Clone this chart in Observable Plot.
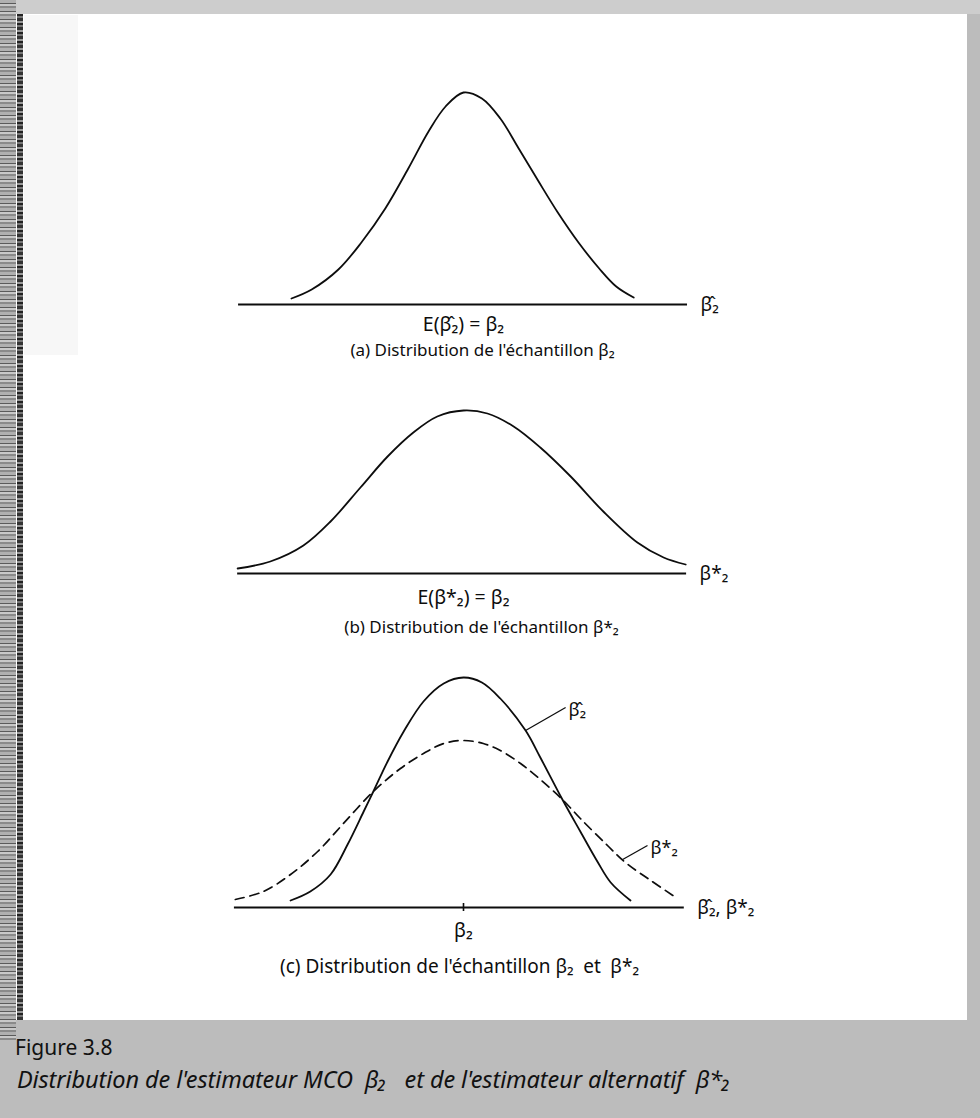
<!DOCTYPE html>
<html>
<head>
<meta charset="utf-8">
<script src="https://cdn.jsdelivr.net/npm/d3@7"></script>
<script src="https://cdn.jsdelivr.net/npm/@observablehq/plot@0.6"></script>
<style>
  html, body { margin: 0; padding: 0; }
  body { width: 980px; height: 1118px; position: relative; overflow: hidden; background: #bcbcbc; font-family: "Noto Sans", sans-serif; }
  #page { position: absolute; left: 16px; top: 14px; width: 951px; height: 1006px; background: #fff; }
  #topstrip { position: absolute; left: 0; top: 0; width: 980px; height: 14px; background: #cdcdcd; }
  #edge { position: absolute; left: 0; top: 0; width: 16px; height: 1040px;
    background: repeating-linear-gradient(0deg, #8a8a8a 0 2px, #c8c8c8 2px 4px, #5a5a5a 4px 5px, #b0b0b0 5px 8px); }
  #edgeline { position: absolute; left: 17px; top: 14px; width: 6px; height: 1006px;
    background: repeating-linear-gradient(0deg, #333 0 3px, #777 3px 5px, #222 5px 7px, #999 7px 9px); }
  #ghost { position: absolute; left: 24px; top: 15px; width: 54px; height: 340px; background: #f7f7f7; }
  .panel { position: absolute; left: 0; }
  #figlabel { position: absolute; left: 15px; top: 1033px; font-size: 21px; color: #111; }
  #figcap { position: absolute; left: 17px; top: 1062px; font-style: italic; font-size: 24px; color: #111;
    transform: scaleX(0.98); transform-origin: left top; letter-spacing: -0.1px; white-space: nowrap; }
</style>
</head>
<body>
<div id="topstrip"></div>
<div id="page"></div>
<div id="edge"></div>
<div id="edgeline"></div>
<div id="ghost"></div>
<div id="pa" class="panel" style="top:40px"></div>
<div id="pb" class="panel" style="top:380px"></div>
<div id="pc" class="panel" style="top:650px"></div>
<div id="figlabel">Figure 3.8</div>
<div id="figcap">Distribution de l'estimateur MCO&nbsp;&nbsp;β₂&nbsp;&nbsp; et de l'estimateur alternatif&nbsp;&nbsp;β*₂</div>
<script>
// ---- Data (x: position along the estimator axis, centred on β2; y: curve height) ----
// Panel (a): sampling distribution of β̂2
const curveAx = [-3.74, -3.30, -2.72, -2.22, -1.70, -1.20, -0.76, -0.39, 0.00, 0.40, 0.80, 1.20, 1.62, 2.05, 2.50, 2.95, 3.32, 3.70];
const curveAy = [0.06, 0.15, 0.35, 0.62, 0.96, 1.36, 1.73, 1.98, 2.12, 2.06, 1.86, 1.56, 1.24, 0.92, 0.62, 0.36, 0.18, 0.07];
// Panel (b): sampling distribution of β*2
const curveBx = [-4.91, -4.20, -3.48, -2.89, -2.24, -1.65, -1.09, -0.57, 0.00, 0.52, 1.09, 1.67, 2.33, 3.04, 3.78, 4.35, 4.83];
const curveBy = [0.05, 0.12, 0.28, 0.52, 0.86, 1.17, 1.41, 1.57, 1.63, 1.60, 1.47, 1.26, 0.97, 0.62, 0.31, 0.16, 0.09];
// Panel (c): both distributions
const solidCx = [-3.76, -3.33, -2.89, -2.52, -2.17, -1.96, -1.65, -1.30, -0.87, -0.43, 0.00, 0.40, 0.80, 1.35, 1.67, 2.15, 2.54, 2.91, 3.20, 3.63];
const solidCy = [0.07, 0.16, 0.33, 0.63, 0.96, 1.16, 1.46, 1.76, 2.06, 2.24, 2.30, 2.25, 2.09, 1.77, 1.50, 1.08, 0.76, 0.46, 0.25, 0.07];
const dashCx = [-4.96, -4.35, -3.76, -3.17, -2.61, -1.96, -1.37, -0.87, -0.43, 0.00, 0.43, 0.80, 1.24, 1.67, 2.15, 2.54, 3.13, 3.52, 4.07, 4.65];
const dashCy = [0.08, 0.16, 0.33, 0.56, 0.84, 1.16, 1.39, 1.54, 1.64, 1.67, 1.64, 1.57, 1.44, 1.28, 1.08, 0.89, 0.62, 0.45, 0.27, 0.09];
// Axis extents
const axisA = [-4.89, 4.87];
const axisB = [-4.91, 4.85];
const axisC = [-4.98, 4.80];
// Texts
const axisNameA = "β̂₂";
const axisNameB = "β*₂";
const axisNameC = "β̂₂, β*₂";
const tickA = "E(β̂₂) = β₂";
const tickB = "E(β*₂) = β₂";
const tickC = "β₂";
const titleA = "(a) Distribution de l'échantillon β₂";
const titleB = "(b) Distribution de l'échantillon β*₂";
const titleC = "(c) Distribution de l'échantillon β₂\u2002et\u2002β*₂";
// Curve call-outs in panel (c): from a point on the curve to the label
const calloutLabels = ["β̂₂", "β*₂"];
const calloutFromX = [1.35, 3.46];
const calloutFromY = [1.77, 0.48];
const calloutToX = [2.22, 4.00];
const calloutToY = [2.00, 0.62];

// ---- Build tables ----
const zip = (xs, ys) => xs.map((x, i) => ({x, y: ys[i]}));
const dataA = zip(curveAx, curveAy);
const dataB = zip(curveBx, curveBy);
const dataCs = zip(solidCx, solidCy);
const dataCd = zip(dashCx, dashCy);
const callouts = calloutLabels.map((t, i) => ({t, x1: calloutFromX[i], y1: calloutFromY[i], x2: calloutToX[i], y2: calloutToY[i]}));

const INK = "#0d0d0d";
const FONT = "'Noto Sans', sans-serif";

function panel({top, bottom, marks}) {
  return Plot.plot({
    width: 980,
    height: top * 100 + bottom,
    marginLeft: 233, marginRight: 287, marginTop: 0, marginBottom: bottom,
    x: {domain: [-5, 5], axis: null},
    y: {domain: [0, top], axis: null},
    style: {background: "transparent", fontFamily: FONT, fontSize: "16px", color: INK, overflow: "visible"},
    marks
  });
}

const axisMarks = (ext, name, tick, title, tickDy, titleDy, titleDx, showTick, titleSize) => [
  Plot.ruleY([0], {x1: ext[0], x2: ext[1], stroke: INK, strokeWidth: 2}),
  showTick ? Plot.ruleX([0], {y1: -0.04, y2: 0.04, stroke: INK, strokeWidth: 1.6}) : null,
  Plot.text([name], {x: ext[1], y: 0, text: d => d, textAnchor: "start", dx: 13, fontSize: 19, fill: INK}),
  Plot.text([tick], {x: 0, y: 0, text: d => d, dy: tickDy, fontSize: 19.5, fill: INK}),
  Plot.text([title], {x: 0, y: 0, text: d => d, dy: titleDy, dx: titleDx, fontSize: titleSize, fill: INK})
];

const SMOOTH = "catmull-rom";

document.getElementById("pa").append(panel({
  top: 2.64, bottom: 70,
  marks: [
    ...axisMarks(axisA, axisNameA, tickA, titleA, 20, 46, 19, false, 17),
    Plot.line(dataA, {x: "x", y: "y", curve: SMOOTH, stroke: INK, strokeWidth: 1.8})
  ]
}));

document.getElementById("pb").append(panel({
  top: 1.93, bottom: 70,
  marks: [
    ...axisMarks(axisB, axisNameB, tickB, titleB, 24, 54, 18, false, 17),
    Plot.line(dataB, {x: "x", y: "y", curve: SMOOTH, stroke: INK, strokeWidth: 1.8})
  ]
}));

document.getElementById("pc").append(panel({
  top: 2.57, bottom: 75,
  marks: [
    ...axisMarks(axisC, axisNameC, tickC, titleC, 23, 59, -4, true, 19),
    Plot.line(dataCd, {x: "x", y: "y", curve: SMOOTH, stroke: INK, strokeWidth: 1.7, strokeDasharray: "9,6"}),
    Plot.line(dataCs, {x: "x", y: "y", curve: SMOOTH, stroke: INK, strokeWidth: 1.8}),
    Plot.link(callouts, {x1: "x1", y1: "y1", x2: "x2", y2: "y2", stroke: INK, strokeWidth: 1.3}),
    Plot.text(callouts, {x: "x2", y: "y2", text: "t", textAnchor: "start", dx: 3, dy: 3, fontSize: 18, fill: INK})
  ]
}));
</script>
</body>
</html>
